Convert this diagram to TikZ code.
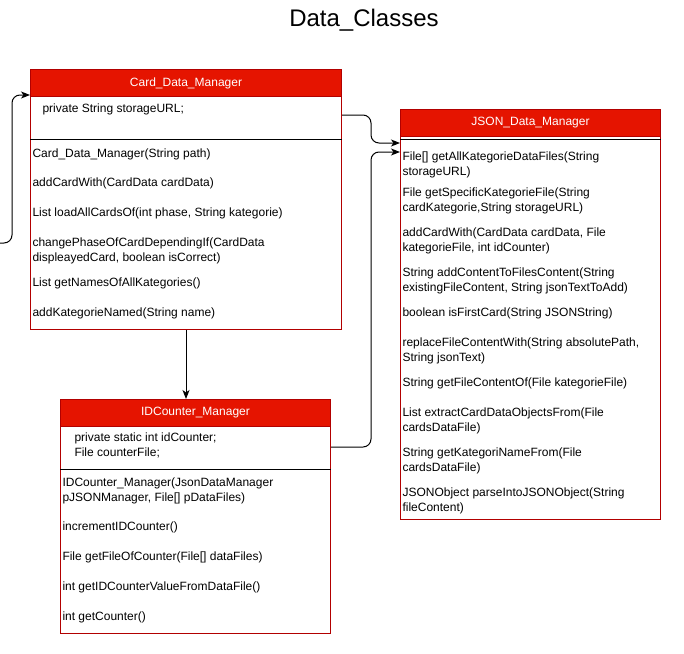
\documentclass[tikz,border=0pt]{standalone}
\usepackage{fontspec}
\setmainfont{Liberation Sans}
\usetikzlibrary{arrows.meta}

\definecolor{headred}{HTML}{E51400}
\definecolor{edgered}{HTML}{B20000}

\begin{document}
\begin{tikzpicture}[
            x = 1pt, y = -1pt, % pixel grid of the sketch
            > = {Stealth[length=9pt, width=7pt, inset=2.5pt]}, % arrow head style
            line width = 1pt
        ]

        \tikzstyle{classbox}=[
        draw = edgered,
        fill = white,
        anchor = north west,
        inner sep = 0pt
        ]
        \tikzstyle{classhead}=[
        draw = edgered,
        fill = headred,
        text = white,
        anchor = north west,
        minimum height = 27,
        inner sep = 0pt,
        font = \fontsize{12}{15}\selectfont
        ]
        \tikzstyle{member}=[
        anchor = west,
        align = left,
        inner sep = 0pt,
        font = \fontsize{12}{15}\selectfont
        ]
        \tikzstyle{link}=[
        ->,
        draw = black,
        rounded corners = 8
        ]

        \useasboundingbox (0,0) rectangle (684,653);

        \node[font = \fontsize{24}{28}\selectfont] (title) at (364,20) {Data\_Classes};

        % Card_Data_Manager
        \node[classbox, minimum width = 311, minimum height = 260] (card) at (30,69) {};
        \node[classhead, minimum width = 311] (cardhead) at (card.north west) {Card\_Data\_Manager};
        \draw ([yshift=-70]card.north west) -- ([yshift=-70]card.north east);
        \node[member] (cardattr) at (42,109) {private String storageURL;};
        \foreach \y/\txt [count=\i] in {
            154/{Card\_Data\_Manager(String path)},
            183/{addCardWith(CardData cardData)},
            213/{List loadAllCardsOf(int phase, String kategorie)},
            250.5/{changePhaseOfCardDependingIf(CardData\\displeayedCard, boolean isCorrect)},
            283/{List getNamesOfAllKategories()},
            313/{addKategorieNamed(String name)}}
            \node[member] (cardm\i) at (32,\y) {\txt};

        % JSON_Data_Manager
        \node[classbox, minimum width = 260, minimum height = 410] (json) at (400,109) {};
        \node[classhead, minimum width = 260] (jsonhead) at (json.north west) {JSON\_Data\_Manager};
        \draw ([yshift=-30]json.north west) -- ([yshift=-30]json.north east);
        \foreach \y/\txt [count=\i] in {
            164.5/{File[] getAllKategorieDataFiles(String\\storageURL)},
            200.5/{File getSpecificKategorieFile(String\\cardKategorie,String storageURL)},
            240.5/{addCardWith(CardData cardData, File\\kategorieFile, int idCounter)},
            280.5/{String addContentToFilesContent(String\\existingFileContent, String jsonTextToAdd)},
            313/{boolean isFirstCard(String JSONString)},
            350.5/{replaceFileContentWith(String absolutePath,\\String jsonText)},
            383/{String getFileContentOf(File kategorieFile)},
            420.5/{List extractCardDataObjectsFrom(File\\cardsDataFile)},
            460.5/{String getKategoriNameFrom(File\\cardsDataFile)},
            500.5/{JSONObject parseIntoJSONObject(String\\fileContent)}}
            \node[member] (jsonm\i) at (402,\y) {\txt};

        % IDCounter_Manager
        \node[classbox, minimum width = 270, minimum height = 234] (idc) at (60,399) {};
        \node[classhead, minimum width = 270] (idchead) at (idc.north west) {IDCounter\_Manager};
        \draw ([yshift=-70]idc.north west) -- ([yshift=-70]idc.north east);
        \node[member] (idcattr) at (74,445.5) {private static int idCounter;\\File counterFile;};
        \foreach \y/\txt [count=\i] in {
            490.5/{IDCounter\_Manager(JsonDataManager\\pJSONManager, File[] pDataFiles)},
            527/{incrementIDCounter()},
            557/{File getFileOfCounter(File[] dataFiles)},
            587/{int getIDCounterValueFromDataFile()},
            617/{int getCounter()}}
            \node[member] (idcm\i) at (62,\y) {\txt};

        % connectors
        \coordinate (fromleft) at (0,243);
        \path[link] (fromleft) -- ++(12,0) |- ([yshift=-26]card.north west);
        \path[link] (card.south) -- (card.south |- idc.north);
        \path[link] ([yshift=-46]card.north east) -- ++(29,0) |- ([yshift=-34]json.north west);
        \path[link] ([yshift=-48]idc.north east) -- ++(40,0) |- ([yshift=-43]json.north west);
    \end{tikzpicture}
\end{document}
